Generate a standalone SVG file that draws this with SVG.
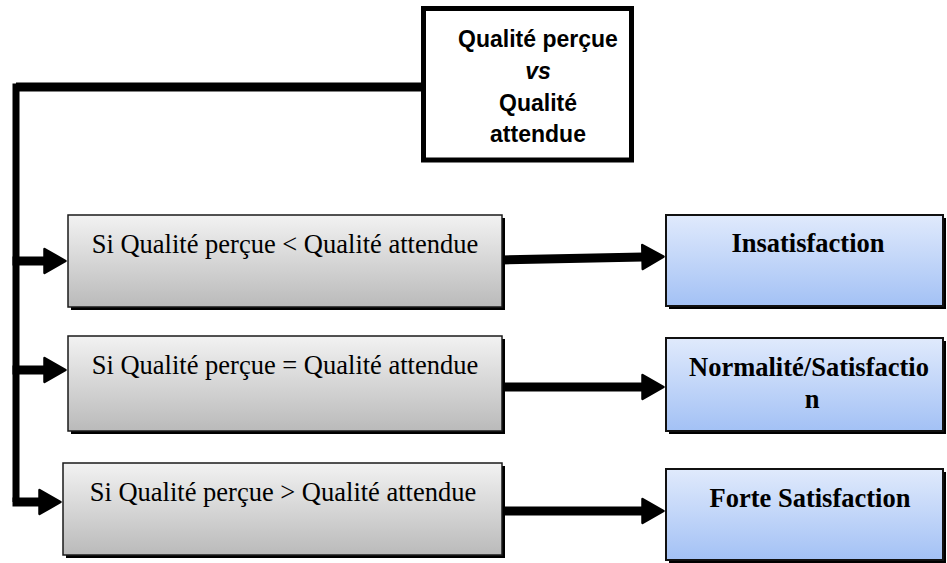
<svg xmlns="http://www.w3.org/2000/svg" width="947" height="563" viewBox="0 0 947 563">
<defs>
<linearGradient id="gGray" x1="0" y1="0" x2="0" y2="1">
<stop offset="0" stop-color="#f2f2f2"/>
<stop offset="1" stop-color="#bababa"/>
</linearGradient>
<linearGradient id="gBlue" x1="0" y1="0" x2="0" y2="1">
<stop offset="0" stop-color="#e0eafc"/>
<stop offset="1" stop-color="#a3c1f5"/>
</linearGradient>
<marker id="arr" markerUnits="userSpaceOnUse" viewBox="0 0 24 28" refX="2" refY="14" markerWidth="24" markerHeight="28" orient="auto">
<path d="M1.5,2 L22.5,14 L1.5,26 Z" fill="#000" stroke="#000" stroke-width="2.5" stroke-linejoin="round"/>
</marker>
</defs>
<style>
.shadow{fill:#000}
.gray{fill:url(#gGray);stroke:#1a1a1a;stroke-width:1.5}
.blue{fill:url(#gBlue);stroke:#111;stroke-width:2}
.cond{font-family:"Liberation Serif","Times New Roman",serif;font-size:26.5px;fill:#000;text-anchor:middle}
.res{font-family:"Liberation Serif","Times New Roman",serif;font-size:26.5px;font-weight:bold;fill:#000;text-anchor:middle}
.top{font-family:"Liberation Sans",Arial,sans-serif;font-size:23px;font-weight:bold;fill:#000;text-anchor:middle}
.line{fill:none;stroke:#000;stroke-width:9}
.trunk{fill:none;stroke:#000;stroke-width:7;stroke-linejoin:miter}
</style>
<g id="connectors">
<path class="line" d="M16,87 L421,87"/>
<path class="trunk" d="M16,83.5 L16,502"/>
<path class="line" d="M12.5,261 L45,261" marker-end="url(#arr)"/>
<path class="line" d="M12.5,370 L45,370" marker-end="url(#arr)"/>
<path class="line" d="M12.5,502 L40,502" marker-end="url(#arr)"/>
<path class="line" d="M502,260 L643,257" marker-end="url(#arr)"/>
<path class="line" d="M502,387 L643,387" marker-end="url(#arr)"/>
<path class="line" d="M502,511 L643,511" marker-end="url(#arr)"/>
</g>
<g id="node-top">
<rect x="423.5" y="8.5" width="208" height="151.5" fill="#fff" stroke="#000" stroke-width="5"/>
<text class="top" x="538" y="47">Qualité perçue</text>
<text class="top" x="538" y="79" font-style="italic">vs</text>
<text class="top" x="538" y="111">Qualité</text>
<text class="top" x="538" y="142">attendue</text>
</g>
<g id="node-cond1">
<rect class="shadow" x="71" y="218" width="434" height="92"/>
<rect class="gray" x="68" y="215" width="434" height="92"/>
<text class="cond" x="285" y="253">Si Qualité perçue &lt; Qualité attendue</text>
</g>
<g id="node-cond2">
<rect class="shadow" x="71" y="339" width="434" height="95"/>
<rect class="gray" x="68" y="336" width="434" height="95"/>
<text class="cond" x="285" y="374">Si Qualité perçue = Qualité attendue</text>
</g>
<g id="node-cond3">
<rect class="shadow" x="66" y="466" width="439" height="92"/>
<rect class="gray" x="63" y="463" width="439" height="92"/>
<text class="cond" x="283" y="501">Si Qualité perçue &gt; Qualité attendue</text>
</g>
<g id="node-res1">
<rect class="shadow" x="669" y="218" width="277" height="91"/>
<rect class="blue" x="666" y="215" width="277" height="91"/>
<text class="res" x="808" y="252">Insatisfaction</text>
</g>
<g id="node-res2">
<rect class="shadow" x="669" y="341" width="277" height="93"/>
<rect class="blue" x="666" y="338" width="277" height="93"/>
<text class="res" x="809" y="376">Normalité/Satisfactio</text>
<text class="res" x="812" y="408">n</text>
</g>
<g id="node-res3">
<rect class="shadow" x="669" y="472" width="277" height="91"/>
<rect class="blue" x="666" y="469" width="277" height="91"/>
<text class="res" x="810" y="507">Forte Satisfaction</text>
</g>
</svg>
